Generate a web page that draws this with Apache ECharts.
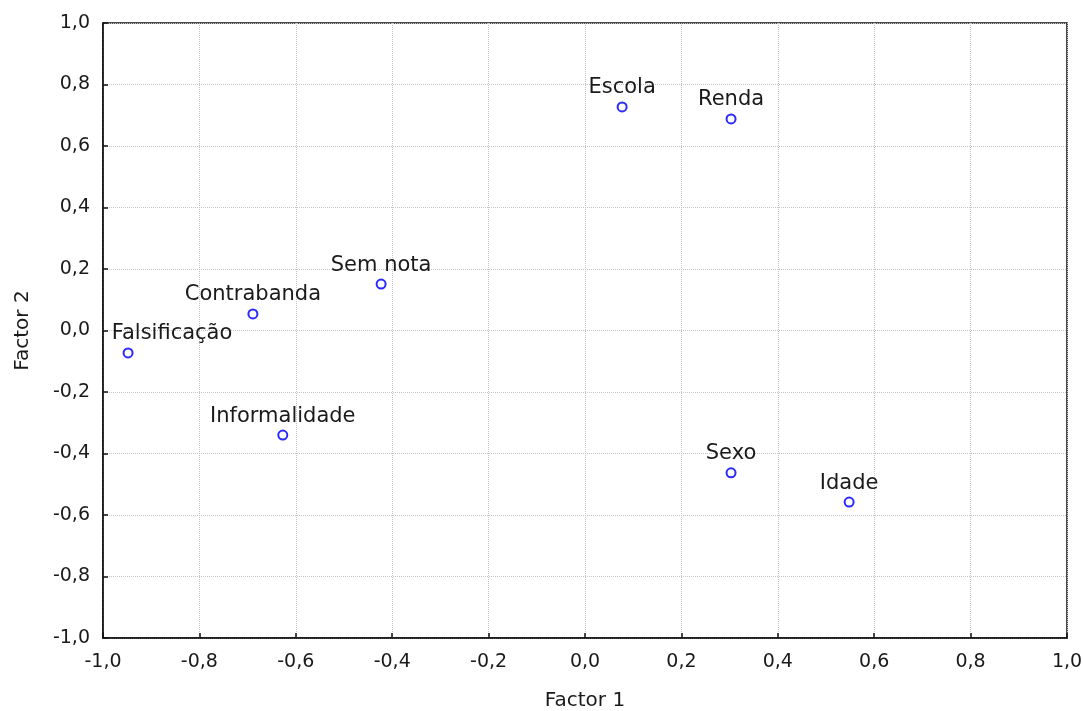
<!DOCTYPE html>
<html>
<head>
<meta charset="utf-8">
<script src="https://cdn.jsdelivr.net/npm/echarts@6/dist/echarts.min.js"></script>
<style>
  html, body { margin: 0; padding: 0; background: #fff; }
  #chart { width: 1083px; height: 711px; }
</style>
</head>
<body>
<div id="chart"></div>
<script>
// factor loadings
const names = ['Escola', 'Renda', 'Sem nota', 'Contrabanda', 'Falsificação', 'Informalidade', 'Sexo', 'Idade'];
const factor1 = [0.077, 0.303, -0.423, -0.689, -0.948, -0.627, 0.303, 0.548];
const factor2 = [0.727, 0.688, 0.151, 0.054, -0.073, -0.340, -0.463, -0.558];

const fmt = v => v.toFixed(1).replace('.', ',');
const font = '"DejaVu Sans", sans-serif';
const txt = '#1a1a1a';

const points = names.map((n, i) => {
    const p = { name: n, value: [factor1[i], factor2[i]] };
    if (n === 'Falsificação') p.label = { offset: [44, 0] };
    return p;
});

const chart = echarts.init(document.getElementById('chart'));

chart.setOption({
    backgroundColor: '#fff',
    animation: false,
    grid: {
        left: 103, right: 16, top: 23, bottom: 73, outerBoundsMode: 'none',
        show: true, borderColor: '#111', borderWidth: 1.5
    },
    xAxis: {
        type: 'value', min: -1, max: 1, interval: 0.2,
        name: 'Factor 1', nameLocation: 'middle', nameGap: 53,
        nameTextStyle: { fontFamily: font, fontSize: 20, color: txt },
        axisLine: { show: true, onZero: false, lineStyle: { color: '#111', width: 1.5 } },
        axisTick: { show: true, inside: true, length: 5, lineStyle: { color: '#111', width: 1.5 } },
        axisLabel: { formatter: fmt, fontFamily: font, fontSize: 19, color: txt, margin: 15 },
        splitLine: { show: true, lineStyle: { color: '#c4c4c4', type: [1, 1], width: 1 } }
    },
    yAxis: {
        type: 'value', min: -1, max: 1, interval: 0.2,
        name: 'Factor 2', nameLocation: 'middle', nameGap: 70, nameRotate: 90,
        nameTextStyle: { fontFamily: font, fontSize: 20, color: txt },
        axisLine: { show: true, onZero: false, lineStyle: { color: '#111', width: 1.5 } },
        axisTick: { show: true, inside: true, length: 5, lineStyle: { color: '#111', width: 1.5 } },
        axisLabel: { formatter: fmt, fontFamily: font, fontSize: 19, color: txt, margin: 13 },
        splitLine: { show: true, lineStyle: { color: '#c4c4c4', type: [1, 1], width: 1 } }
    },
    series: [{
        type: 'scatter',
        symbol: 'circle',
        symbolSize: 9,
        itemStyle: { color: '#fff', borderColor: '#2a2aff', borderWidth: 2, opacity: 1 },
        label: {
            show: true, position: 'top', distance: 3,
            formatter: p => p.name,
            fontFamily: font, fontSize: 21, color: txt
        },
        data: points
    }]
});
</script>
</body>
</html>
